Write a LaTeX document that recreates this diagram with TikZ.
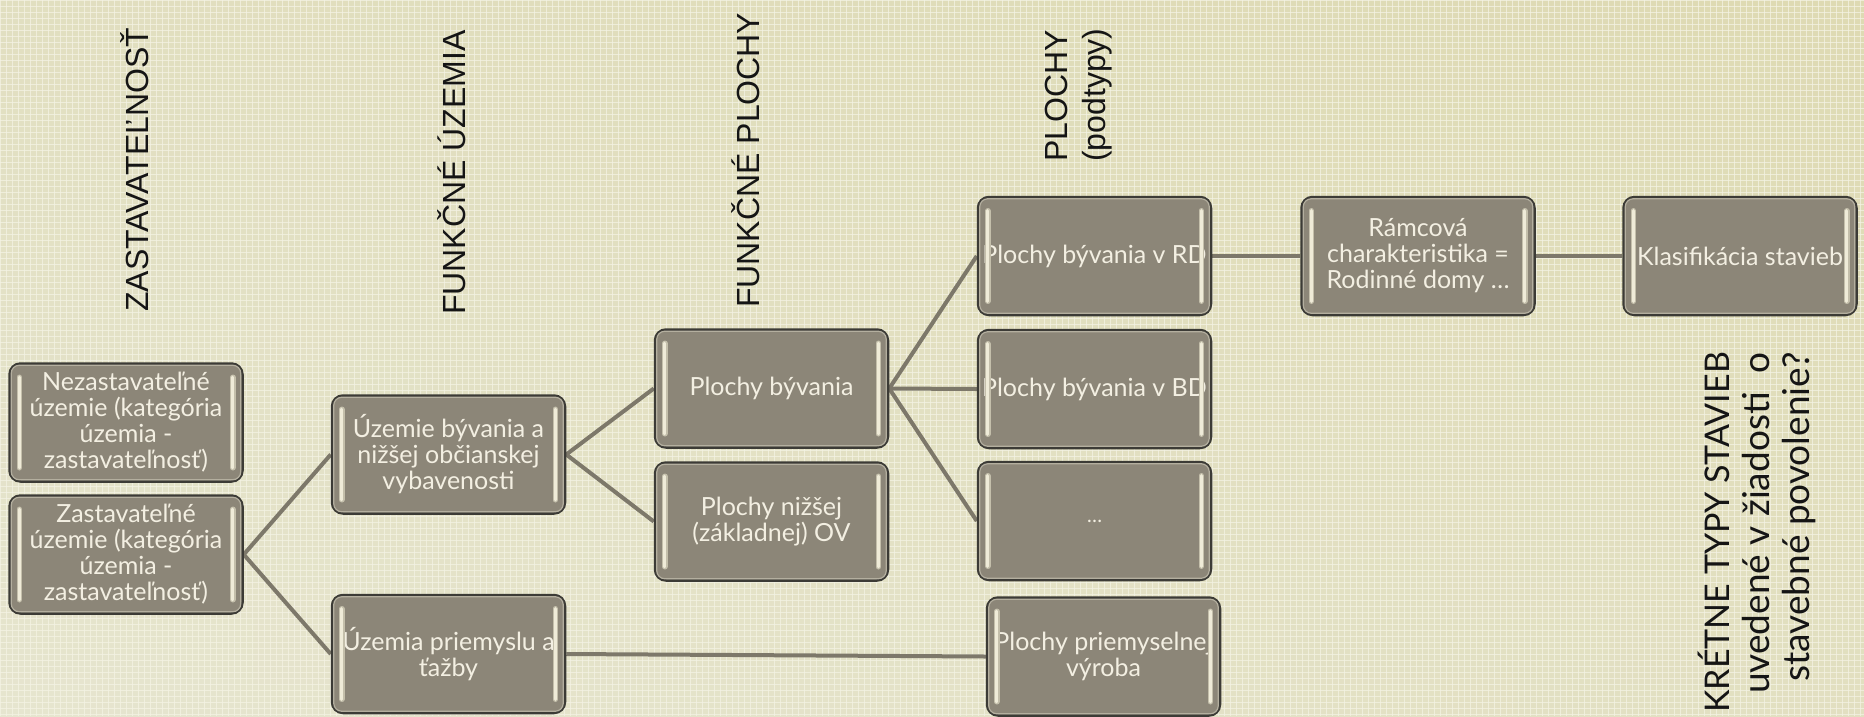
\documentclass[tikz,border=0pt]{standalone}
\usepackage{fontspec}
\setmainfont{Lato}
\newfontfamily\hdrfont{Liberation Sans}
\newfontfamily\boxfont{Lato}
\newfontfamily\rtfont{Lato}
\pgfdeclarelayer{bglayer}
\pgfdeclarelayer{connlayer}
\pgfsetlayers{bglayer,connlayer,main}
\definecolor{bgleft}{HTML}{E6E5CF}
\definecolor{bgright}{HTML}{DEDAB3}
\definecolor{gridcol}{HTML}{F4F3E4}
\definecolor{boxfill}{HTML}{8C8678}
\definecolor{boxedge}{HTML}{3C3B36}
\definecolor{boxrim}{HTML}{B4AF9F}
\definecolor{boxtext}{HTML}{F3EFE2}
\definecolor{barcol}{HTML}{EFEBD8}
\definecolor{bardark}{HTML}{C4BFAB}
\definecolor{conncol}{HTML}{7D786A}
\definecolor{hdrcol}{HTML}{151515}
\tikzset{
  box/.style={draw=boxedge, line width=2.5pt, fill=boxfill, rounded corners=11pt,
    minimum width=233pt, minimum height=118pt, inner sep=0pt, align=center,
    text=boxtext, font={\boxfont\fontsize{25}{26}\selectfont}},
  conn/.style={draw=conncol, line width=4pt},
  hdr/.style={rotate=90, text=hdrcol, inner sep=0pt, font={\hdrfont\fontsize{32}{38}\selectfont}},
  rtext/.style={rotate=90, text=hdrcol, inner sep=0pt, font={\rtfont\fontsize{37}{40}\selectfont}},
  barlo/.style={draw=bardark, line width=5.5pt, line cap=round},
  barhi/.style={draw=barcol, line width=3.2pt, line cap=round},
  rim/.style={draw=boxrim, line width=1.2pt, rounded corners=8pt}
}
\begin{document}
\begin{tikzpicture}[x=1pt,y=-1pt]
\path[use as bounding box] (0,0) rectangle (1864,716);
\clip (0,0) rectangle (1864,716);
\begin{pgfonlayer}{bglayer}
  \shade[left color=bgleft, right color=bgright] (0,0) rectangle (1864,716);
  \shade[top color=bgright, bottom color=bgleft, opacity=0.5] (0,0) rectangle (1864,716);
  \foreach \i in {0,6,...,1864} \draw[gridcol, line width=0.9pt, opacity=0.75] (\i,0) -- (\i,716);
  \foreach \j in {0,6,...,716} \draw[gridcol, line width=0.9pt, opacity=0.75] (0,\j) -- (1864,\j);
\end{pgfonlayer}

% headers
\node[hdr, anchor=west] (h1) at (135,312) {ZASTAVATEĽNOSŤ};
\node[hdr, anchor=west] (h2) at (452,315) {FUNKČNÉ ÚZEMIA};
\node[hdr, anchor=west] (h3) at (746,308) {FUNKČNÉ PLOCHY};
\node[hdr, anchor=west, align=left] (h4) at (1079,162) {PLOCHY\\(podtypy)};
\node[rtext, anchor=east, align=right] (rt) at (1757,352) {{\fontsize{34}{40}\selectfont KRÉTNE TYPY STAVIEB}\\uvedené v žiadosti\ \ o\\stavebné povolenie?};

% boxes
\node[box] (nez) at (126,422.5) {Nezastavateľné\\územie (kategória\\územia -\\zastavateľnosť)};
\node[box] (zas) at (126,554.5) {Zastavateľné\\územie (kategória\\územia -\\zastavateľnosť)};
\node[box] (ubyv) at (448.5,454.5) {Územie bývania a\\nižšej občianskej\\vybavenosti};
\node[box] (upri) at (448.5,654) {Územia priemyslu a\\ťažby};
\node[box] (pbyv) at (771.5,388.5) {Plochy bývania};
\node[box] (pniz) at (771.5,521.5) {Plochy nižšej\\(základnej) OV};
\node[box] (prd) at (1094.5,256) {Plochy bývania v RD};
\node[box] (pbd) at (1094.5,389) {Plochy bývania v BD};
\node[box] (pdots) at (1094.5,521) {\fontsize{20}{22}\selectfont\dots};
\node[box] (ppri) at (1103.5,656.5) {Plochy priemyselnej\\výroba};
\node[box] (ram) at (1418,256) {Rámcová\\charakteristika =\\Rodinné domy \dots};
\node[box] (kla) at (1740,256) {Klasifikácia stavieb};

% rims and highlight bars
\foreach \n in {nez,zas,ubyv,upri,pbyv,pniz,prd,pbd,pdots,ppri,ram,kla}{
  \draw[rim] ([xshift=3pt,yshift=-3pt]\n.north west) rectangle ([xshift=-3pt,yshift=3pt]\n.south east);
  \draw[barlo] ([xshift=11pt,yshift=-15pt]\n.north west) -- ([xshift=11pt,yshift=15pt]\n.south west);
  \draw[barhi] ([xshift=11pt,yshift=-15pt]\n.north west) -- ([xshift=11pt,yshift=15pt]\n.south west);
  \draw[barlo] ([xshift=-11pt,yshift=-15pt]\n.north east) -- ([xshift=-11pt,yshift=15pt]\n.south east);
  \draw[barhi] ([xshift=-11pt,yshift=-15pt]\n.north east) -- ([xshift=-11pt,yshift=15pt]\n.south east);
}

% connectors
\begin{pgfonlayer}{connlayer}
  \draw[conn] (zas.east) -- (ubyv.west);
  \draw[conn] (zas.east) -- (upri.west);
  \draw[conn] (ubyv.east) -- (pbyv.west);
  \draw[conn] (ubyv.east) -- (pniz.west);
  \draw[conn] (pbyv.east) -- (prd.west);
  \draw[conn] (pbyv.east) -- (pbd.west);
  \draw[conn] (pbyv.east) -- (pdots.west);
  \draw[conn] (upri.east) -- (ppri.west);
  \draw[conn] (prd.east) -- (ram.west);
  \draw[conn] (ram.east) -- (kla.west);
\end{pgfonlayer}
\end{tikzpicture}
\end{document}
